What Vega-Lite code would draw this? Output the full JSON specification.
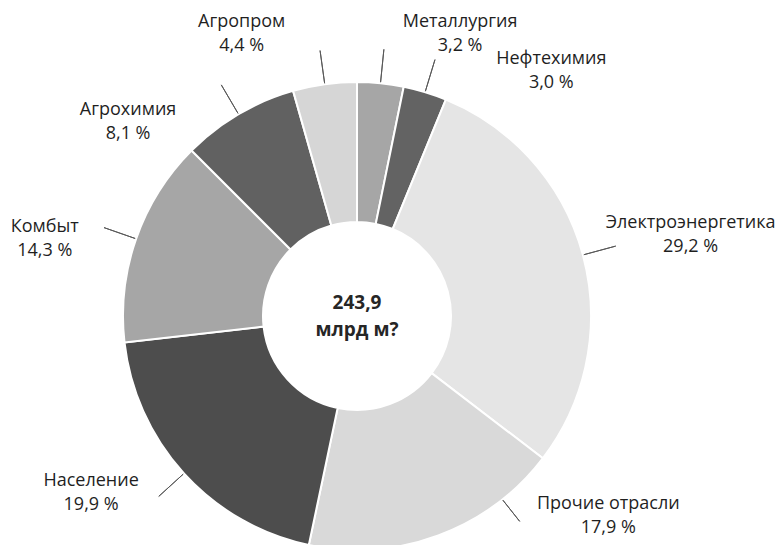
{
  "$schema": "https://vega.github.io/schema/vega-lite/v6.json",
  "width": 458,
  "height": 458,
  "autosize": {"type": "none"},
  "padding": {"left": 128, "top": 87, "right": 195, "bottom": 0},
  "background": "white",
  "config": {
    "view": {"stroke": null},
    "text": {"font": "Open Sans", "fontSize": 18, "lineBreak": "\n", "lineHeight": 24, "fill": "#1f1f1f"}
  },
  "data": {
    "values": [
      {"cat": "Металлургия", "v": 3.2},
      {"cat": "Нефтехимия", "v": 3.0},
      {"cat": "Электроэнергетика", "v": 29.2},
      {"cat": "Прочие отрасли", "v": 17.9},
      {"cat": "Население", "v": 19.9},
      {"cat": "Комбыт", "v": 14.3},
      {"cat": "Агрохимия", "v": 8.1},
      {"cat": "Агропром", "v": 4.4}
    ]
  },
  "transform": [
    {"window": [{"op": "row_number", "as": "idx"}]},
    {"window": [{"op": "sum", "field": "v", "as": "cum"}], "sort": [{"field": "idx"}], "frame": [null, 0]},
    {"calculate": "datum.cum - datum.v / 2", "as": "mid"},
    {"calculate": "datum.cat + '\\n' + replace(format(datum.v, '.1f'), '.', ',') + ' %'", "as": "label"}
  ],
  "layer": [
    {
      "mark": {"type": "arc", "outerRadius": 234, "innerRadius": 94, "stroke": "white", "strokeWidth": 2},
      "encoding": {
        "theta": {"field": "v", "type": "quantitative", "stack": true, "scale": {"domain": [0, 100]}},
        "order": {"field": "idx", "type": "quantitative"},
        "color": {
          "field": "cat", "type": "nominal", "legend": null,
          "scale": {
            "domain": ["Металлургия", "Нефтехимия", "Электроэнергетика", "Прочие отрасли", "Население", "Комбыт", "Агрохимия", "Агропром"],
            "range": ["#a6a6a6", "#636363", "#e5e5e5", "#d9d9d9", "#4d4d4d", "#a6a6a6", "#616161", "#d6d6d6"]
          }
        }
      }
    },
    {
      "transform": [{"filter": "datum.cat != 'Прочие отрасли'"}],
      "mark": {"type": "arc", "outerRadius": 268, "innerRadius": 235, "filled": false, "stroke": "#595959", "strokeWidth": 1},
      "encoding": {
        "theta": {"field": "mid", "type": "quantitative", "scale": {"domain": [0, 100]}},
        "theta2": {"field": "mid"}
      }
    },
    {
      "transform": [{"filter": "datum.cat == 'Прочие отрасли'"}],
      "mark": {"type": "arc", "outerRadius": 262, "innerRadius": 235, "filled": false, "stroke": "#595959", "strokeWidth": 1, "thetaOffset": -0.315, "theta2Offset": -0.315},
      "encoding": {
        "theta": {"field": "mid", "type": "quantitative", "scale": {"domain": [0, 100]}},
        "theta2": {"field": "mid"}
      }
    },
    {
      "transform": [{"filter": "datum.cat == 'Металлургия'"}],
      "mark": {"type": "text", "radius": 300, "dx": 73, "dy": 4},
      "encoding": {"theta": {"field": "mid", "type": "quantitative", "stack": null, "scale": {"domain": [0, 100]}}, "text": {"field": "label", "type": "nominal"}}
    },
    {
      "transform": [{"filter": "datum.cat == 'Нефтехимия'"}],
      "mark": {"type": "text", "radius": 300, "dx": 107, "dy": 30},
      "encoding": {"theta": {"field": "mid", "type": "quantitative", "stack": null, "scale": {"domain": [0, 100]}}, "text": {"field": "label", "type": "nominal"}}
    },
    {
      "transform": [{"filter": "datum.cat == 'Электроэнергетика'"}],
      "mark": {"type": "text", "radius": 300, "dx": 44, "dy": -15},
      "encoding": {"theta": {"field": "mid", "type": "quantitative", "stack": null, "scale": {"domain": [0, 100]}}, "text": {"field": "label", "type": "nominal"}}
    },
    {
      "transform": [{"filter": "datum.cat == 'Прочие отрасли'"}],
      "mark": {"type": "text", "radius": 300, "dx": 147, "dy": -93},
      "encoding": {"theta": {"field": "mid", "type": "quantitative", "stack": null, "scale": {"domain": [0, 100]}}, "text": {"field": "label", "type": "nominal"}}
    },
    {
      "transform": [{"filter": "datum.cat == 'Население'"}],
      "mark": {"type": "text", "radius": 300, "dx": -44, "dy": -37},
      "encoding": {"theta": {"field": "mid", "type": "quantitative", "stack": null, "scale": {"domain": [0, 100]}}, "text": {"field": "label", "type": "nominal"}}
    },
    {
      "transform": [{"filter": "datum.cat == 'Комбыт'"}],
      "mark": {"type": "text", "radius": 300, "dx": -29, "dy": 10},
      "encoding": {"theta": {"field": "mid", "type": "quantitative", "stack": null, "scale": {"domain": [0, 100]}}, "text": {"field": "label", "type": "nominal"}}
    },
    {
      "transform": [{"filter": "datum.cat == 'Агрохимия'"}],
      "mark": {"type": "text", "radius": 300, "dx": -77, "dy": 53},
      "encoding": {"theta": {"field": "mid", "type": "quantitative", "stack": null, "scale": {"domain": [0, 100]}}, "text": {"field": "label", "type": "nominal"}}
    },
    {
      "transform": [{"filter": "datum.cat == 'Агропром'"}],
      "mark": {"type": "text", "radius": 300, "dx": -74, "dy": 3},
      "encoding": {"theta": {"field": "mid", "type": "quantitative", "stack": null, "scale": {"domain": [0, 100]}}, "text": {"field": "label", "type": "nominal"}}
    },
    {
      "data": {"values": [{"t": "243,9\nмлрд м?"}]},
      "mark": {"type": "text", "fontSize": 19, "fontWeight": "bold", "lineHeight": 27, "fill": "#262626", "dy": -13},
      "encoding": {"text": {"field": "t", "type": "nominal"}}
    }
  ]
}
